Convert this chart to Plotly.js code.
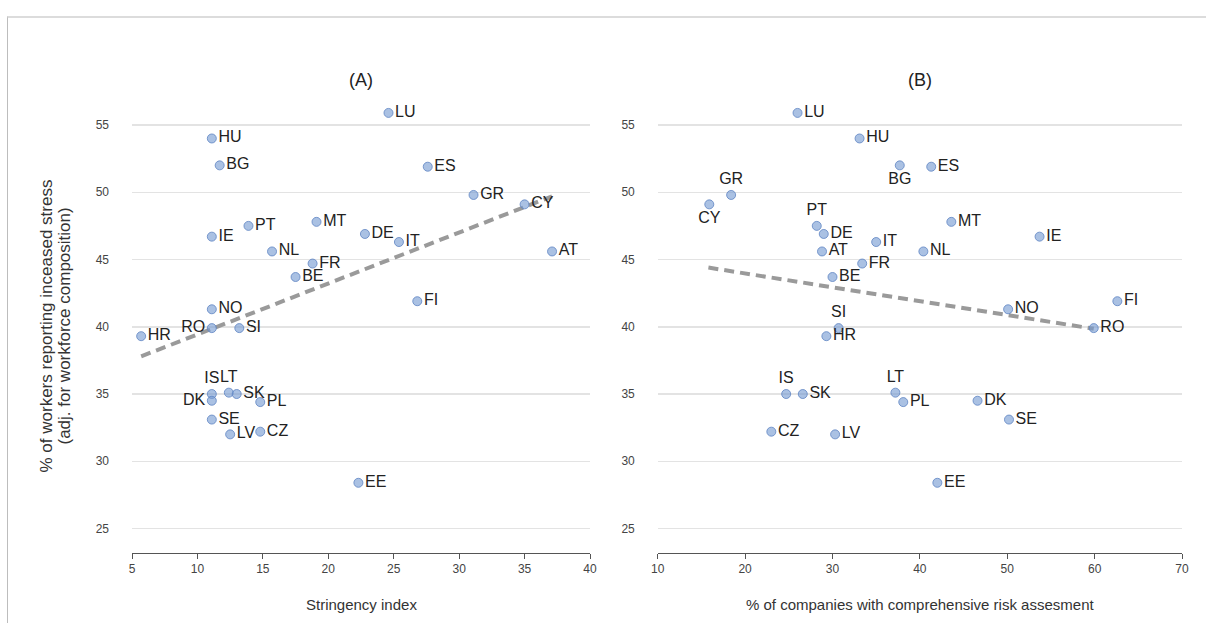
<!DOCTYPE html>
<html>
<head>
<meta charset="utf-8">
<script src="https://cdn.plot.ly/plotly-3.0.1.min.js"></script>
<style>
  html, body { margin: 0; padding: 0; background: #ffffff; overflow: hidden; }
  #wrap { position: relative; width: 1206px; height: 623px; }
  #frame {
    position: absolute; left: 7px; top: 16px; width: 1400px; height: 800px;
    border-left: 1px solid #bdbdbd; border-top: 2px solid #dcdcdc;
    pointer-events: none;
  }
  #chart { position: absolute; left: 0; top: 0; width: 1206px; height: 623px; }
</style>
</head>
<body>
<div id="wrap">
  <div id="frame"></div>
  <div id="chart"></div>
</div>
<script>
// Country codes and the share of workers reporting increased stress
const countries = ['LU','HU','BG','ES','GR','CY','PT','MT','IE','DE','IT','NL','AT','FR','BE',
                   'FI','NO','RO','SI','HR','IS','DK','LT','SK','PL','SE','LV','CZ','EE'];
const stressIncrease = [55.9, 54.0, 52.0, 51.9, 49.8, 49.1, 47.5, 47.8, 46.7, 46.9, 46.3, 45.6, 45.6, 44.7, 43.7,
                        41.9, 41.3, 39.9, 39.9, 39.3, 35.0, 34.5, 35.1, 35.0, 34.4, 33.1, 32.0, 32.2, 28.4];

// Panel A: stringency index
const stringencyIndex = [24.6, 11.1, 11.7, 27.6, 31.1, 35.0, 13.9, 19.1, 11.1, 22.8, 25.4, 15.7, 37.1, 18.8, 17.5,
                         26.8, 11.1, 11.1, 13.2, 5.7, 11.1, 11.1, 12.4, 13.0, 14.8, 11.1, 12.5, 14.8, 22.3];
// Panel B: % of companies with comprehensive risk assessment
const riskAssessment = [26.0, 33.1, 37.7, 41.3, 18.4, 15.9, 28.2, 43.6, 53.7, 29.0, 35.0, 40.4, 28.8, 33.4, 30.0,
                        62.6, 50.1, 59.9, 30.7, 29.3, 24.7, 46.6, 37.2, 26.6, 38.1, 50.2, 30.3, 23.0, 42.0];

// Fitted trend lines (end points)
const trendA_x = [5.7, 37.1];
const trendA_y = [37.8, 49.7];
const trendB_x = [15.8, 59.9];
const trendB_y = [44.4, 39.85];

// Label placement per country
const MR = 'middle right';
const labelPosA = [MR, MR, MR, MR, MR, MR, MR, MR, MR, MR, MR, MR, MR, MR, MR,
                   MR, MR, 'middle left', MR, MR, 'top center', 'middle left', 'top center', MR, MR, MR, MR, MR, MR];
const labelPosB = [MR, MR, 'bottom center', MR, 'top center', 'bottom center', 'top center', MR, MR, MR, MR, MR, MR, MR, MR,
                   MR, MR, MR, 'top center', MR, 'top center', MR, 'top center', MR, MR, MR, MR, MR, MR];

const FONT = 'Liberation Sans, Arial, Helvetica, sans-serif';

const markerStyle = {
  size: 9,
  color: 'rgba(118,155,210,0.62)',
  line: { color: 'rgba(95,132,195,0.8)', width: 1 }
};
const labelFont = { family: FONT, size: 16, color: '#222' };
const trendLine = { color: '#9a9a9a', width: 4, dash: '10px,6px' };

const traces = [
  { x: trendA_x, y: trendA_y, xaxis: 'x', yaxis: 'y', mode: 'lines', line: trendLine, hoverinfo: 'skip' },
  { x: trendB_x, y: trendB_y, xaxis: 'x2', yaxis: 'y2', mode: 'lines', line: trendLine, hoverinfo: 'skip' },
  { x: stringencyIndex, y: stressIncrease, xaxis: 'x', yaxis: 'y', mode: 'markers+text',
    text: countries, textposition: labelPosA, textfont: labelFont, marker: markerStyle, cliponaxis: false },
  { x: riskAssessment, y: stressIncrease, xaxis: 'x2', yaxis: 'y2', mode: 'markers+text',
    text: countries, textposition: labelPosB, textfont: labelFont, marker: markerStyle, cliponaxis: false }
];

const xAxisBase = {
  showgrid: false, zeroline: false, showline: true, linecolor: '#555', linewidth: 1,
  ticks: 'outside', ticklen: 5, tickcolor: '#555', tickwidth: 1,
  tickfont: { family: FONT, size: 12, color: '#444' }, fixedrange: true
};
const yAxisBase = {
  range: [23.18, 56.86], tick0: 25, dtick: 5,
  showgrid: true, gridcolor: '#e3e3e3', gridwidth: 1.5,
  zeroline: false, showline: false, ticks: '',
  tickfont: { family: FONT, size: 12, color: '#444' }, ticklabelstandoff: 22, fixedrange: true
};

const titleFont = { family: FONT, size: 18, color: '#222' };
const axisTitleFont = { family: FONT, size: 15, color: '#333' };
const yTitleFont = { family: FONT, size: 17, color: '#333' };

const layout = {
  width: 1206, height: 623,
  margin: { l: 132, r: 24, t: 100, b: 70, pad: 0 },
  paper_bgcolor: 'rgba(0,0,0,0)', plot_bgcolor: 'rgba(0,0,0,0)',
  showlegend: false,
  font: { family: FONT, color: '#333' },
  xaxis: Object.assign({}, xAxisBase, { domain: [0, 0.4362], range: [5, 40], tick0: 5, dtick: 5, anchor: 'y' }),
  yaxis: Object.assign({}, yAxisBase, { anchor: 'x' }),
  xaxis2: Object.assign({}, xAxisBase, { domain: [0.5007, 1], range: [10, 70], tick0: 10, dtick: 10, anchor: 'y2' }),
  yaxis2: Object.assign({}, yAxisBase, { anchor: 'x2' }),
  annotations: [
    { text: '(A)', xref: 'x domain', yref: 'paper', x: 0.5, y: 1.044, xanchor: 'center', yanchor: 'middle',
      showarrow: false, font: titleFont },
    { text: '(B)', xref: 'x2 domain', yref: 'paper', x: 0.5, y: 1.044, xanchor: 'center', yanchor: 'middle',
      showarrow: false, font: titleFont },
    { text: 'Stringency index', xref: 'x domain', yref: 'paper', x: 0.5, y: -0.1126, xanchor: 'center', yanchor: 'middle',
      showarrow: false, font: axisTitleFont },
    { text: '% of companies with comprehensive risk assesment', xref: 'x2 domain', yref: 'paper', x: 0.5, y: -0.1126,
      xanchor: 'center', yanchor: 'middle', showarrow: false, font: axisTitleFont },
    // shared y-axis title, two rotated lines
    { text: '% of workers reporting inceased stress', xref: 'paper', yref: 'paper',
      x: (46 - 132) / 1050, y: 0.5, xanchor: 'center', yanchor: 'middle', textangle: -90, showarrow: false,
      font: yTitleFont },
    { text: '(adj. for workforce composition)', xref: 'paper', yref: 'paper',
      x: (64 - 132) / 1050, y: 0.5, xanchor: 'center', yanchor: 'middle', textangle: -90, showarrow: false,
      font: yTitleFont }
  ]
};

Plotly.newPlot('chart', traces, layout, { displayModeBar: false, staticPlot: true });
</script>
</body>
</html>
